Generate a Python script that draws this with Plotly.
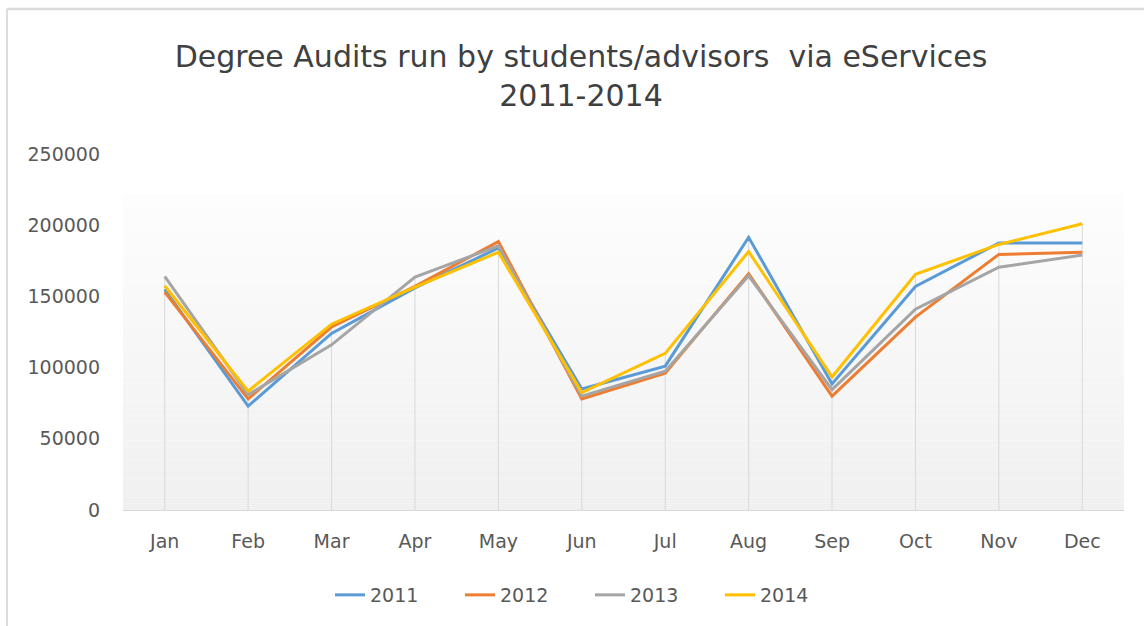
import plotly.graph_objects as go

months = ["Jan", "Feb", "Mar", "Apr", "May", "Jun", "Jul", "Aug", "Sep", "Oct", "Nov", "Dec"]
y2011 = [155000, 73000, 124000, 156000, 184000, 85000, 101000, 191500, 88500, 157000, 187500, 187500]
y2012 = [153000, 78000, 128500, 157000, 188500, 78000, 96000, 166000, 80000, 135500, 179500, 181000]
y2013 = [164000, 81000, 116000, 163500, 185500, 80000, 97500, 164500, 84500, 141000, 170500, 179000]
y2014 = [157500, 83500, 130500, 156500, 181000, 82500, 110000, 181500, 93500, 165500, 186500, 201000]
series_names = ["2011", "2012", "2013", "2014"]
colors = ["#5B9BD5", "#ED7D31", "#A5A5A5", "#FFC000"]
tick_vals = [0, 50000, 100000, 150000, 200000, 250000]

W, H = 1144, 626
ML, MR, MT, MB = 123, 20, 154, 116
FONT = "DejaVu Sans"
TXT = "#595959"
GRID = "#d9d9d9"

fig = go.Figure()

# drop lines from the highest value down to the axis
all_series = [y2011, y2012, y2013, y2014]
dx, dy = [], []
for i, m in enumerate(months):
    top = max(s[i] for s in all_series)
    dx += [m, m, None]
    dy += [0, top, None]
fig.add_trace(go.Scatter(x=dx, y=dy, mode="lines", line=dict(color=GRID, width=1),
                         hoverinfo="skip", showlegend=False))

for name, vals, c in zip(series_names, all_series, colors):
    fig.add_trace(go.Scatter(x=months, y=vals, mode="lines", name=name,
                             line=dict(color=c, width=3)))

# gradient plot background
shapes = []
n = 50
top_val = 222000
for k in range(n):
    y0 = top_val * k / n
    y1 = top_val * (k + 1) / n
    t = k / (n - 1)
    g = int(round(240 + (253 - 240) * t))
    shapes.append(dict(type="rect", xref="x domain", yref="y", x0=0, x1=1, y0=y0, y1=y1,
                       fillcolor=f"rgb({g},{g},{g})", line=dict(width=0), layer="below"))

# outer chart border (top and left)
pw = W - ML - MR
ph = H - MT - MB
def px2x(px):
    return (px - ML) / pw
def py2y(py):
    return (H - MB - py) / ph
shapes.append(dict(type="line", xref="paper", yref="paper", x0=px2x(7), x1=px2x(W + 5),
                   y0=py2y(9), y1=py2y(9), line=dict(color="#dcdcdc", width=2.5)))
shapes.append(dict(type="line", xref="paper", yref="paper", x0=px2x(7), x1=px2x(7),
                   y0=py2y(9), y1=py2y(H + 5), line=dict(color="#dcdcdc", width=2)))

fig.update_layout(
    width=W, height=H,
    margin=dict(l=ML, r=MR, t=MT, b=MB),
    paper_bgcolor="white", plot_bgcolor="white",
    font=dict(family=FONT, color=TXT, size=19),
    title=dict(text="Degree Audits run by students/advisors \u00a0via eServices<br>2011-2014",
               font=dict(family=FONT, size=30, color="#404040"),
               xref="container", x=581 / W, xanchor="center",
               yref="container", y=1 - 67 / H, yanchor="top"),
    shapes=shapes,
    showlegend=True,
    legend=dict(orientation="h", xref="container", yref="container",
                x=590 / W, xanchor="center", y=1 - 595 / H, yanchor="middle",
                font=dict(family=FONT, size=19, color=TXT),
                entrywidth=85, entrywidthmode="pixels", traceorder="normal",
                bgcolor="rgba(0,0,0,0)"),
    hovermode=False,
)
fig.update_xaxes(type="category", range=[-0.5, 11.5], showgrid=False, zeroline=False,
                 showline=True, linecolor=GRID, linewidth=1, ticks="",
                 ticklabelstandoff=14, tickfont=dict(family=FONT, size=19, color=TXT))
fig.update_yaxes(range=[0, 250000], tickvals=tick_vals, ticktext=[str(v) for v in tick_vals],
                 showgrid=False, zeroline=False, showline=False, ticks="",
                 ticklabelstandoff=22, tickfont=dict(family=FONT, size=19, color=TXT))

fig.write_html("out.html")
